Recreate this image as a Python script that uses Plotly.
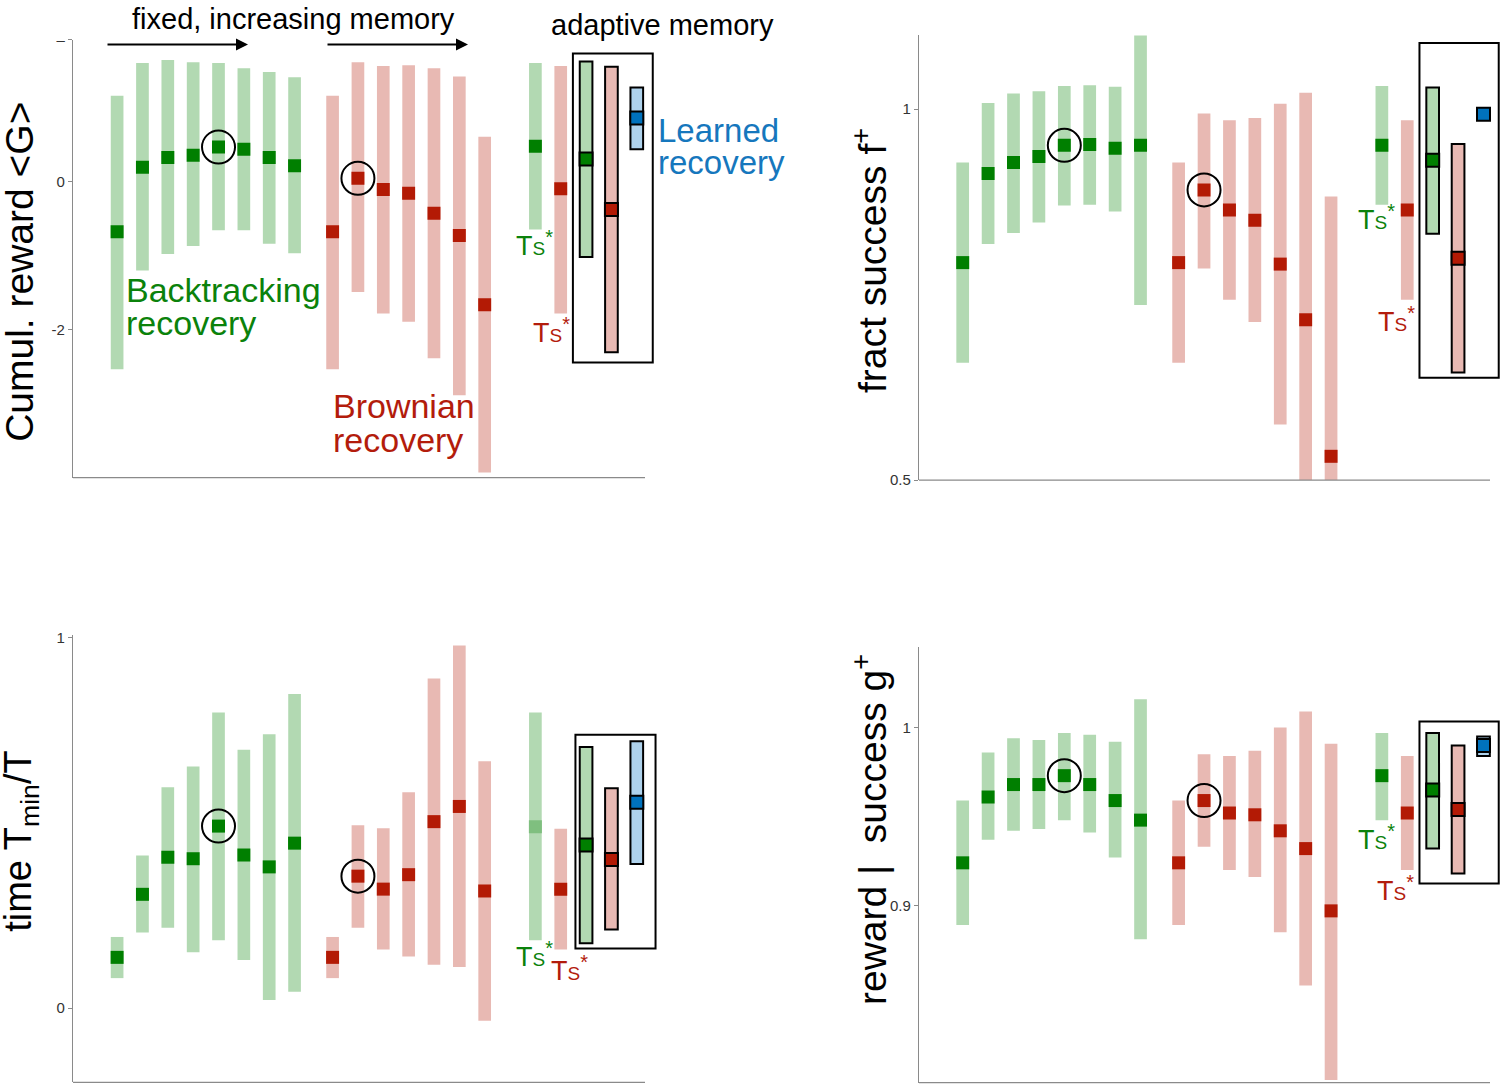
import plotly.graph_objects as go

# ---------------- data ----------------
# Panel 1: cumulative reward <G>
reward_bt_mid = [-0.68, 0.19, 0.32, 0.35, 0.46, 0.43, 0.32, 0.21]
reward_bt_lo = [-2.53, -1.20, -0.98, -0.87, -0.66, -0.66, -0.84, -0.97]
reward_bt_hi = [1.15, 1.59, 1.63, 1.60, 1.59, 1.52, 1.47, 1.40]
reward_br_mid = [-0.68, 0.04, -0.11, -0.16, -0.43, -0.73, -1.66]
reward_br_lo = [-2.53, -1.49, -1.78, -1.89, -2.38, -2.88, -3.92]
reward_br_hi = [1.15, 1.60, 1.55, 1.56, 1.52, 1.41, 0.60]
reward_ts_mid = [0.47, -0.10]
reward_ts_lo = [-0.65, -1.78]
reward_ts_hi = [1.59, 1.55]
reward_ad_mid = [0.30, -0.38, 0.85]
reward_ad_lo = [-1.02, -2.30, 0.43]
reward_ad_hi = [1.61, 1.54, 1.26]

# Panel 2: fraction of success f+
fsucc_bt_mid = [0.793, 0.913, 0.928, 0.936, 0.951, 0.952, 0.947, 0.951]
fsucc_bt_lo = [0.658, 0.818, 0.833, 0.847, 0.870, 0.871, 0.862, 0.736]
fsucc_bt_hi = [0.928, 1.008, 1.021, 1.024, 1.031, 1.032, 1.030, 1.099]
fsucc_br_mid = [0.793, 0.891, 0.864, 0.850, 0.791, 0.716, 0.532]
fsucc_br_lo = [0.658, 0.785, 0.743, 0.713, 0.575, 0.45, 0.40]
fsucc_br_hi = [0.928, 0.994, 0.985, 0.988, 1.007, 1.022, 0.882]
fsucc_ts_mid = [0.951, 0.864]
fsucc_ts_lo = [0.871, 0.743]
fsucc_ts_hi = [1.031, 0.985]
fsucc_ad_mid = [0.931, 0.799, 0.993]
fsucc_ad_lo = [0.832, 0.645, 0.9925]
fsucc_ad_hi = [1.029, 0.953, 0.9945]

# Panel 3: time Tmin/T
tmin_bt_mid = [0.137, 0.307, 0.407, 0.403, 0.491, 0.413, 0.381, 0.445]
tmin_bt_lo = [0.081, 0.204, 0.217, 0.151, 0.183, 0.130, 0.022, 0.044]
tmin_bt_hi = [0.192, 0.412, 0.596, 0.652, 0.797, 0.697, 0.739, 0.847]
tmin_br_mid = [0.137, 0.356, 0.321, 0.360, 0.503, 0.544, 0.316]
tmin_br_lo = [0.081, 0.217, 0.158, 0.139, 0.117, 0.111, -0.034]
tmin_br_hi = [0.192, 0.493, 0.485, 0.582, 0.889, 0.978, 0.666]
tmin_ts_mid = [0.489, 0.321]
tmin_ts_lo = [0.183, 0.158]
tmin_ts_hi = [0.797, 0.484]
tmin_ad_mid = [0.440, 0.401, 0.555]
tmin_ad_lo = [0.175, 0.212, 0.389]
tmin_ad_hi = [0.704, 0.593, 0.720]

# Panel 4: reward | success g+
gsucc_bt_mid = [0.924, 0.961, 0.968, 0.968, 0.973, 0.968, 0.959, 0.948]
gsucc_bt_lo = [0.889, 0.937, 0.942, 0.943, 0.948, 0.941, 0.927, 0.881]
gsucc_bt_hi = [0.959, 0.986, 0.994, 0.993, 0.997, 0.996, 0.992, 1.016]
gsucc_br_mid = [0.924, 0.959, 0.952, 0.951, 0.942, 0.932, 0.897]
gsucc_br_lo = [0.889, 0.933, 0.920, 0.916, 0.885, 0.855, 0.802]
gsucc_br_hi = [0.959, 0.985, 0.984, 0.987, 1.000, 1.009, 0.991]
gsucc_ts_mid = [0.973, 0.952]
gsucc_ts_lo = [0.948, 0.920]
gsucc_ts_hi = [0.997, 0.984]
gsucc_ad_mid = [0.965, 0.954, 0.990]
gsucc_ad_lo = [0.932, 0.918, 0.984]
gsucc_ad_hi = [0.997, 0.990, 0.995]

# ---------------- styles ----------------
LG, DG = "#b2d9b2", "#007f00"
LR, DR = "#e8b9b3", "#b31a05"
LB, DB = "#aed2ec", "#0072bd"
FADED_G = "#7fbf7f"
TXT_G, TXT_R, TXT_B = "#0b820b", "#b31c0c", "#1677bd"
AXC = "#8a8a8a"
FONT = "Liberation Sans, Arial, Helvetica, sans-serif"
W, H = 1500, 1092

def PX(x):
    return x / W

def PY(y):
    return 1 - y / H

# slot positions of the groups along the (hidden) x axis
bt_x = [1 + i for i in range(8)]
br_x = [9.5 + i for i in range(7)]
ts_x = [17.5, 18.5]
ad_x = [19.5, 20.5, 21.5]

fig = go.Figure()

def spans(lo, hi):
    return [h - l for l, h in zip(lo, hi)]

def add_panel(n, bt, br, ts, ad, box, ts_green_marker=DG):
    xa = "x" if n == 1 else f"x{n}"
    ya = "y" if n == 1 else f"y{n}"
    bt_mid, bt_lo, bt_hi = bt
    br_mid, br_lo, br_hi = br
    ts_mid, ts_lo, ts_hi = ts
    ad_mid, ad_lo, ad_hi = ad
    common = dict(xaxis=xa, yaxis=ya, width=0.5, hoverinfo="skip", showlegend=False)
    fig.add_trace(go.Bar(x=bt_x, y=spans(bt_lo, bt_hi), base=bt_lo,
                         marker=dict(color=LG, line=dict(width=0)), **common))
    fig.add_trace(go.Bar(x=br_x, y=spans(br_lo, br_hi), base=br_lo,
                         marker=dict(color=LR, line=dict(width=0)), **common))
    fig.add_trace(go.Bar(x=ts_x, y=spans(ts_lo, ts_hi), base=ts_lo,
                         marker=dict(color=[LG, LR], line=dict(width=0)), **common))
    fig.add_trace(go.Bar(x=ad_x, y=spans(ad_lo, ad_hi), base=ad_lo,
                         marker=dict(color=[LG, LR, LB], line=dict(color="black", width=2)),
                         **common))
    mk = dict(xaxis=xa, yaxis=ya, mode="markers", hoverinfo="skip", showlegend=False)
    fig.add_trace(go.Scatter(x=bt_x, y=bt_mid,
                             marker=dict(symbol="square", size=13, color=DG, line=dict(width=0)), **mk))
    fig.add_trace(go.Scatter(x=br_x, y=br_mid,
                             marker=dict(symbol="square", size=13, color=DR, line=dict(width=0)), **mk))
    fig.add_trace(go.Scatter(x=ts_x, y=ts_mid,
                             marker=dict(symbol="square", size=13, color=[ts_green_marker, DR],
                                         line=dict(width=0)), **mk))
    fig.add_trace(go.Scatter(x=ad_x, y=ad_mid,
                             marker=dict(symbol="square", size=13, color=[DG, DR, DB],
                                         line=dict(color="black", width=2)), **mk))
    # highlighted (circled) memory settings
    fig.add_trace(go.Scatter(x=[bt_x[4], br_x[1]], y=[bt_mid[4], br_mid[1]],
                             marker=dict(symbol="circle-open", size=33, color="black",
                                         line=dict(width=2)), **mk))
    # frame around the adaptive-memory group
    fig.add_shape(type="rect", xref=xa, yref=ya, x0=box[0], x1=box[1], y0=box[2], y1=box[3],
                  line=dict(color="black", width=2), fillcolor="rgba(0,0,0,0)")

add_panel(1, (reward_bt_mid, reward_bt_lo, reward_bt_hi),
          (reward_br_mid, reward_br_lo, reward_br_hi),
          (reward_ts_mid, reward_ts_lo, reward_ts_hi),
          (reward_ad_mid, reward_ad_lo, reward_ad_hi),
          box=(18.98, 22.13, -2.44, 1.72))
add_panel(2, (fsucc_bt_mid, fsucc_bt_lo, fsucc_bt_hi),
          (fsucc_br_mid, fsucc_br_lo, fsucc_br_hi),
          (fsucc_ts_mid, fsucc_ts_lo, fsucc_ts_hi),
          (fsucc_ad_mid, fsucc_ad_lo, fsucc_ad_hi),
          box=(18.98, 22.10, 0.638, 1.089))
add_panel(3, (tmin_bt_mid, tmin_bt_lo, tmin_bt_hi),
          (tmin_br_mid, tmin_br_lo, tmin_br_hi),
          (tmin_ts_mid, tmin_ts_lo, tmin_ts_hi),
          (tmin_ad_mid, tmin_ad_lo, tmin_ad_hi),
          box=(19.08, 22.24, 0.161, 0.737), ts_green_marker=FADED_G)
add_panel(4, (gsucc_bt_mid, gsucc_bt_lo, gsucc_bt_hi),
          (gsucc_br_mid, gsucc_br_lo, gsucc_br_hi),
          (gsucc_ts_mid, gsucc_ts_lo, gsucc_ts_hi),
          (gsucc_ad_mid, gsucc_ad_lo, gsucc_ad_hi),
          box=(18.98, 22.10, 0.9124, 1.0035))

# ---------------- axes ----------------
def xax(x0px, x1px, rng, anchor):
    return dict(domain=[PX(x0px), PX(x1px)], range=list(rng), anchor=anchor,
                showline=False, showticklabels=False, ticks="", showgrid=False, zeroline=False,
                fixedrange=True)

def yax(top_px, bot_px, rng, anchor, tickvals, ticktext):
    return dict(domain=[PY(bot_px), PY(top_px)], range=list(rng), anchor=anchor,
                showline=True, linecolor=AXC, linewidth=1.3, ticks="outside", ticklen=4,
                tickcolor=AXC, tickwidth=1, tickvals=tickvals, ticktext=ticktext,
                tickfont=dict(size=15, color="#333333", family=FONT),
                showgrid=False, zeroline=False, fixedrange=True)

fig.update_layout(
    xaxis=xax(73, 659.6, (-0.74, 22.4), "y"),
    yaxis=yax(31, 476, (-3.987, 1.907), "x", [-2, 0, 1.907], ["-2", "0", "–"]),
    xaxis2=xax(919, 1500, (-0.72, 22.15), "y2"),
    yaxis2=yax(26.2, 478.5, (0.5, 1.1), "x2", [0.5, 1], ["0.5", "1"]),
    xaxis3=xax(73, 659.6, (-0.74, 22.4), "y3"),
    yaxis3=yax(636.4, 1090.3, (-0.2, 1.005), "x3", [0, 1], ["0", "1"]),
    xaxis4=xax(919, 1500, (-0.72, 22.15), "y4"),
    yaxis4=yax(648.3, 1090.7, (0.8004, 1.0452), "x4", [0.9, 1], ["0.9", "1"]),
)

# bottom axis lines (they stop short of the adaptive-memory frame)
for xa, ya, frac in [("x", "y", 0.9751), ("x2", "y2", 0.9828), ("x3", "y3", 0.9751), ("x4", "y4", 0.9828)]:
    fig.add_shape(type="line", xref=f"{xa} domain", yref=f"{ya} domain",
                  x0=0, x1=frac, y0=0, y1=0, line=dict(color=AXC, width=1.3))

# ---------------- text ----------------
ann = []

def text(x, y, s, size, color="black", xanchor="center", angle=0):
    ann.append(dict(x=PX(x), y=PY(y), xref="paper", yref="paper", text=s, showarrow=False,
                    xanchor=xanchor, yanchor="middle", textangle=angle,
                    font=dict(size=size, color=color, family=FONT)))

text(293, 10, "fixed, increasing memory", 29)
text(662.5, 16.7, "adaptive memory", 29)
text(656, 123.5, "Learned", 33, TXT_B, "left")
text(656, 156, "recovery", 33, TXT_B, "left")
text(124, 285, "Backtracking", 34, TXT_G, "left")
text(124, 319, "recovery", 34, TXT_G, "left")
text(331, 403, "Brownian", 34, TXT_R, "left")
text(331, 438, "recovery", 34, TXT_R, "left")

TS = ("T<span style='font-size:19px'>S</span>"
      "<sup><span style='font-size:20px'>*</span></sup>")
for (gx, gy, rx, ry) in [(514, 238, 531, 327), (1356, 212, 1376, 315),
                         (514, 960, 549, 975), (1356, 842, 1375, 893)]:
    text(gx, gy, TS, 27, TXT_G, "left")
    text(rx, ry, TS, 27, TXT_R, "left")

text(20, 267, "Cumul. reward &lt;G&gt;", 39, angle=-90)
text(869, 256, "fract success f<sup>+</sup>", 39, angle=-90)
text(21, 845, "time T<sub>min</sub>/T", 38, angle=-90)
text(869, 834, "reward |  success g<sup>+</sup>", 39, angle=-90)

# arrows under "fixed, increasing memory"
for head in (248, 468):
    ann.append(dict(x=PX(head), y=PY(36), xref="paper", yref="paper", text="",
                    showarrow=True, ax=-142, ay=0, arrowhead=2, arrowsize=1.2,
                    arrowwidth=2, arrowcolor="black"))

fig.update_layout(
    annotations=ann,
    width=W, height=H,
    margin=dict(l=0, r=0, t=0, b=0),
    paper_bgcolor="white", plot_bgcolor="white",
    barmode="overlay", showlegend=False, hovermode=False,
    font=dict(family=FONT),
)

fig.write_html(
    "out.html",
    config={"displayModeBar": False},
    post_script="document.body.style.margin='0';document.body.style.overflow='hidden';",
)
